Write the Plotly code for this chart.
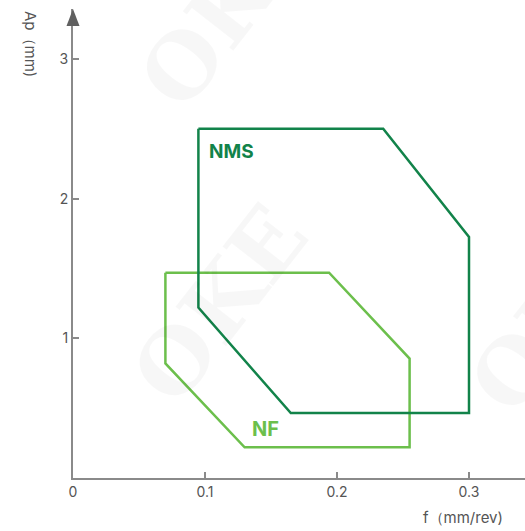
import plotly.graph_objects as go

# Working regions (feed f vs. depth of cut Ap) for the two chipbreakers
nms_f = [0.095, 0.235, 0.300, 0.300, 0.165, 0.095, 0.095]
nms_ap = [2.50, 2.50, 1.725, 0.465, 0.465, 1.22, 2.50]

nf_f = [0.070, 0.194, 0.255, 0.255, 0.130, 0.070, 0.070]
nf_ap = [1.47, 1.47, 0.855, 0.22, 0.22, 0.82, 1.47]

x_ticks = [0, 0.1, 0.2, 0.3]
x_tick_text = ["0", "0.1", "0.2", "0.3"]
y_ticks = [1, 2, 3]
y_tick_text = ["1", "2", "3"]

NMS_COLOR = "#12834A"
NF_COLOR = "#6CBF4C"
AXIS_COLOR = "#8a8a8a"
TEXT_COLOR = "#555555"

fig = go.Figure()

fig.add_trace(go.Scatter(x=nf_f, y=nf_ap, mode="lines",
                         line=dict(color=NF_COLOR, width=2.5),
                         hoverinfo="skip", showlegend=False))
fig.add_trace(go.Scatter(x=nms_f, y=nms_ap, mode="lines",
                         line=dict(color=NMS_COLOR, width=2.5),
                         hoverinfo="skip", showlegend=False))

# Faint brand watermark (paper coordinates, centred)
for wx, wy in [(0.34, 1.0), (0.325, 0.37), (1.07, 0.35)]:
    fig.add_annotation(xref="paper", yref="paper", x=wx, y=wy, text="<b>OKE</b>",
                       showarrow=False, textangle=-52, xanchor="center", yanchor="middle",
                       font=dict(family="DejaVu Serif", size=88, color="rgba(0,0,0,0.032)"))

# Region labels
fig.add_annotation(x=0.1012, y=2.334, text="<b>NMS</b>", showarrow=False,
                   xanchor="left", yanchor="middle",
                   font=dict(family="Inter", size=19, color=NMS_COLOR))
fig.add_annotation(x=0.134, y=0.354, text="<b>NF</b>", showarrow=False,
                   xanchor="left", yanchor="middle",
                   font=dict(family="Inter", size=20, color=NF_COLOR))

# Axis titles
fig.add_annotation(xref="paper", yref="paper", x=1.0, y=-0.085,
                   text="f（mm/rev)", showarrow=False, xanchor="right", yanchor="middle",
                   xshift=-20,
                   font=dict(family="Inter", size=15, color=TEXT_COLOR))
fig.add_annotation(xref="paper", yref="paper", x=0, y=1.0,
                   text="Ap（mm)", showarrow=False, textangle=90,
                   xanchor="center", yanchor="top", xshift=-42,
                   font=dict(family="Inter", size=15, color=TEXT_COLOR))

# Arrow head at the top of the Ap axis
fig.add_shape(type="path", xref="paper", yref="paper", xsizemode="pixel", ysizemode="pixel",
              xanchor=0, yanchor=1, path="M -6.5,-17 L 6.5,-17 L 0,0 Z",
              fillcolor="#606060", line=dict(width=0))

fig.update_xaxes(range=[0, 452 / 1320], tickvals=x_ticks, ticktext=x_tick_text,
                 showline=True, linecolor=AXIS_COLOR, linewidth=2,
                 ticks="inside", ticklen=6, tickwidth=1.5, tickcolor=AXIS_COLOR,
                 showgrid=False, zeroline=False,
                 tickfont=dict(family="Inter", size=14, color=TEXT_COLOR))
fig.update_yaxes(range=[0, 469 / 139.7], tickvals=y_ticks, ticktext=y_tick_text,
                 showline=True, linecolor=AXIS_COLOR, linewidth=2,
                 ticks="inside", ticklen=6, tickwidth=1.5, tickcolor=AXIS_COLOR,
                 showgrid=False, zeroline=False,
                 tickfont=dict(family="Inter", size=14, color=TEXT_COLOR))

fig.update_layout(width=525, height=531,
                  margin=dict(l=73, r=0, t=9, b=53),
                  plot_bgcolor="white", paper_bgcolor="white")

fig.write_html("out.html")
